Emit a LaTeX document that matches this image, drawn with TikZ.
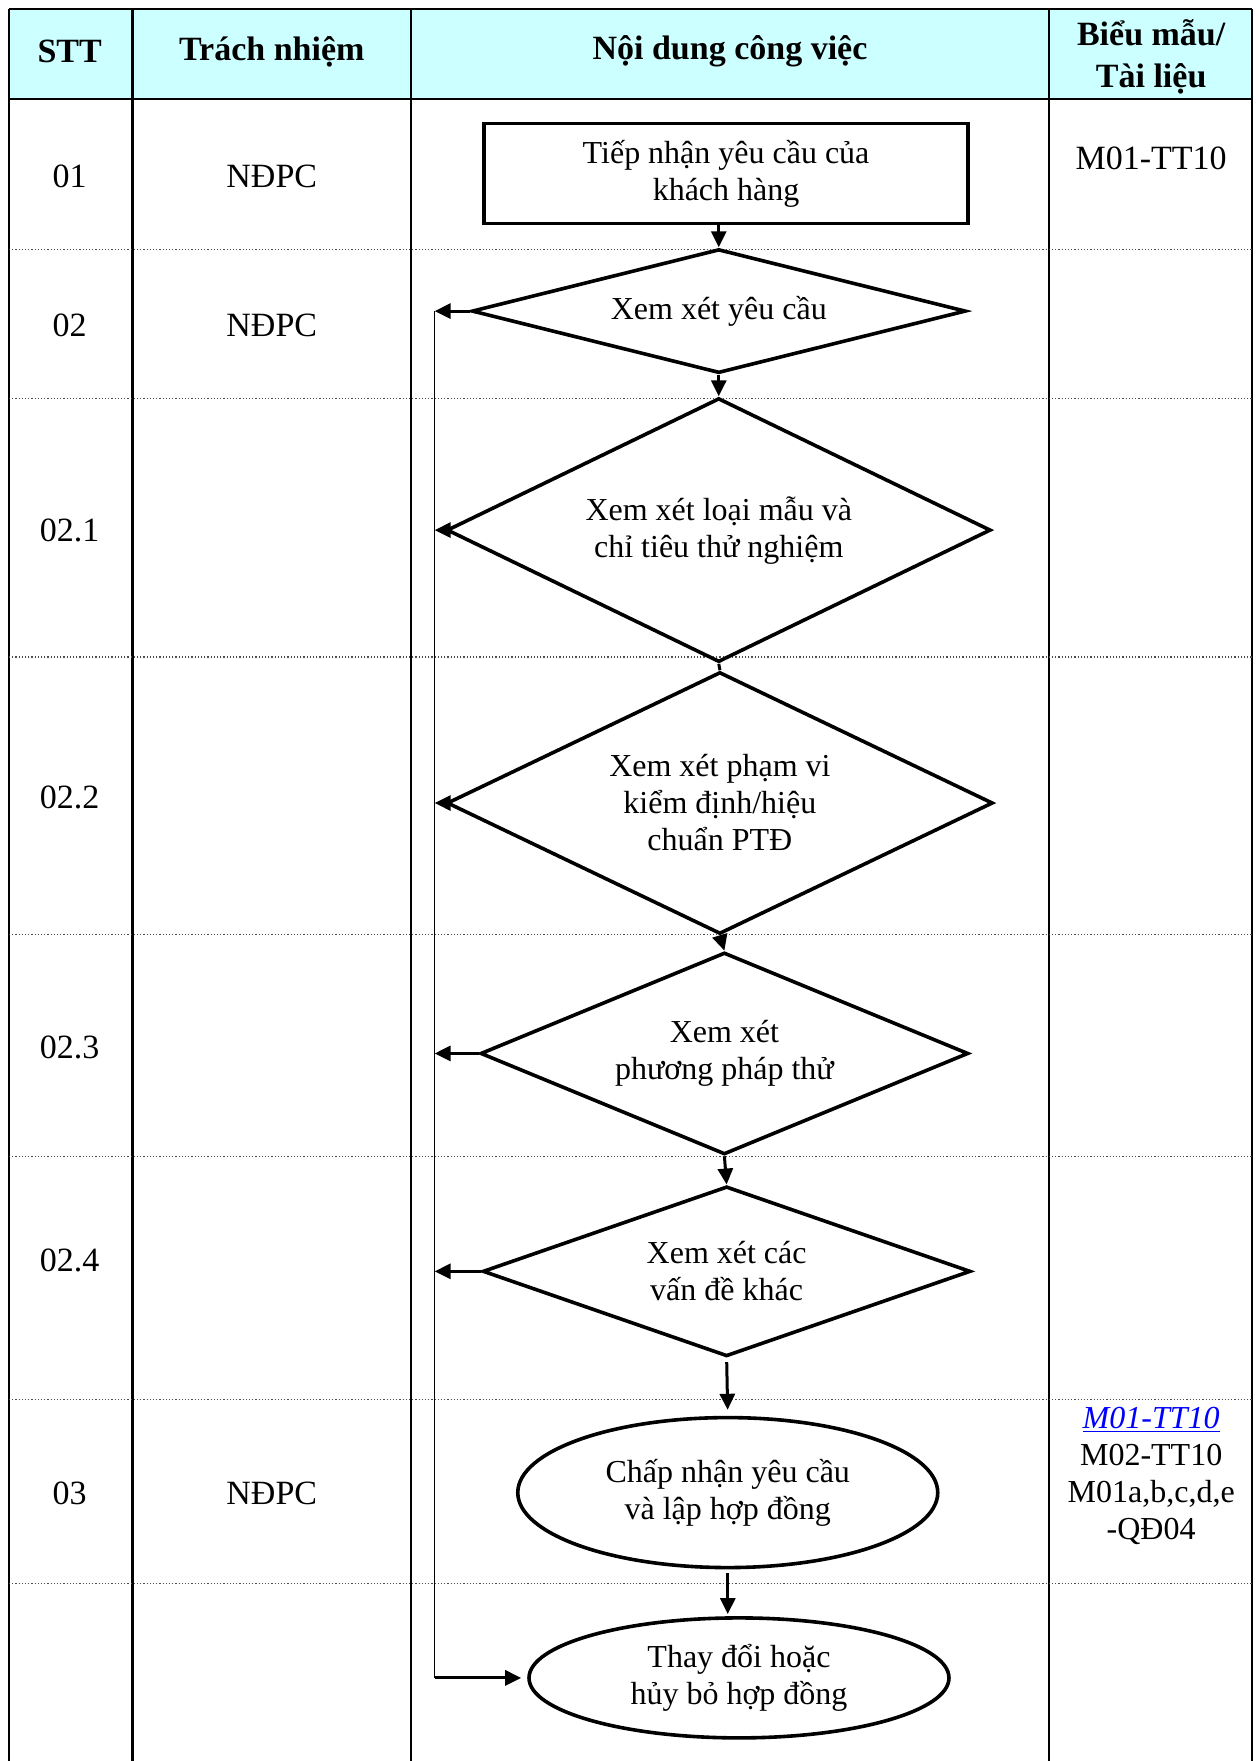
\documentclass[tikz,border=0pt]{standalone}
\usepackage{fontspec}
\setmainfont{Liberation Serif}
\usepackage{tikz}
\usetikzlibrary{positioning, calc, arrows.meta, shapes.geometric}
\definecolor{colorhead}{HTML}{CCFFFF}
\definecolor{colorlink}{HTML}{0000FF}
\tikzstyle{headtxt}=[font=\fontsize{17}{21}\selectfont\bfseries, align=center]
\tikzstyle{celltxt}=[font=\fontsize{17}{18.5}\selectfont, align=center]
\tikzstyle{colline}=[line width=1.2pt]
\tikzstyle{rowline}=[densely dotted, line width=0.6pt, black!70]
\tikzstyle{task}=[draw, rectangle, line width=1.8pt, minimum width=242pt, minimum height=50pt, inner sep=0pt, align=center]
\tikzstyle{check}=[draw, diamond, line width=1.8pt, inner sep=0pt, align=center]
\tikzstyle{goal}=[draw, ellipse, line width=1.8pt, inner sep=0pt, minimum width=210pt, align=center]
\tikzstyle{fwd}=[-{Triangle[length=8pt, width=7.5pt]}, line width=1.5pt]
\tikzstyle{back}=[line width=0.8pt]

\begin{document}
\begin{tikzpicture}[x=0.5616pt, y=-0.5616pt, font=\fontsize{16}{18.5}\selectfont]
\useasboundingbox (0,0) rectangle (1121,1568);

% table frame
\fill[colorhead] (8,8) rectangle (1115,88);
\draw[colline] (8,8) -- (1115,8);
\draw[colline] (8,88) -- (1115,88);
\draw[colline] (8,8) -- (8,1568);
\draw[colline] (118,8) -- (118,1568);
\draw[colline] (366,8) -- (366,1568);
\draw[colline] (934,8) -- (934,1568);
\draw[colline] (1115,8) -- (1115,1568);
\draw[rowline] (8,222) -- (1115,222);
\draw[rowline] (8,355) -- (1115,355);
\draw[rowline] (8,585) -- (1115,585);
\draw[rowline] (8,832) -- (1115,832);
\draw[rowline] (8,1030) -- (1115,1030);
\draw[rowline] (8,1246) -- (1115,1246);
\draw[rowline] (8,1410) -- (1115,1410);

\node[headtxt] (hstt) at (62,46) {STT};
\node[headtxt] (hresp) at (242,46) {Trách nhiệm};
\node[headtxt] (htask) at (650,46) {Nội dung công việc};
\node[headtxt] (hdoc) at (1025,51) {Biểu mẫu/\\Tài liệu};

\node[celltxt] (s01) at (62,157) {01};
\node[celltxt] (s02) at (62,290) {02};
\node[celltxt] (s021) at (62,472) {02.1};
\node[celltxt] (s022) at (62,710) {02.2};
\node[celltxt] (s023) at (62,933) {02.3};
\node[celltxt] (s024) at (62,1122) {02.4};
\node[celltxt] (s03) at (62,1330) {03};

\node[celltxt] (r01) at (242,157) {NĐPC};
\node[celltxt] (r02) at (242,290) {NĐPC};
\node[celltxt] (r03) at (242,1330) {NĐPC};

\node[celltxt] (doc01) at (1025,141) {M01-TT10};
\node[celltxt, font=\fontsize{16}{18.5}\selectfont] (doc03) at (1025,1314)
  {\textcolor{colorlink}{\underline{\textit{M01-TT10}}}\\M02-TT10\\M01a,b,c,d,e\\-QĐ04};

% flow
\node[task] (recv) at (646.5,154.5) {Tiếp nhận yêu cầu của\\khách hàng};
\node[check, aspect=3.98, minimum width=247pt, minimum height=62pt] (d1) at (640,277) {Xem xét yêu cầu};
\node[check, aspect=2.06, minimum width=272pt, minimum height=132pt] (d2) at (640,472) {Xem xét loại mẫu và\\chỉ tiêu thử nghiệm};
\node[check, aspect=2.08, minimum width=273pt, minimum height=131pt] (d3) at (641,715) {Xem xét phạm vi\\kiểm định/hiệu\\chuẩn PTĐ};
\node[check, aspect=2.42, minimum width=244pt, minimum height=101pt] (d4) at (645,938) {Xem xét\\phương pháp thử};
\node[check, aspect=2.87, minimum width=244pt, minimum height=85pt] (d5) at (647,1132) {Xem xét các\\vấn đề khác};
\node[goal, minimum height=75pt] (e1) at (648,1329) {Chấp nhận yêu cầu\\và lập hợp đồng};
\node[goal, minimum height=60pt] (e2) at (658,1494) {Thay đổi hoặc\\hủy bỏ hợp đồng};

\draw[fwd] (d1.north |- recv.south) -- (d1.north);
\draw[fwd] (d1.south) -- (d2.north);
\draw[line width=1.5pt] (d2.south) -- (d3.north);
\draw[fwd] (d3.south) -- (d4.north);
\draw[fwd] (d4.south) -- (d5.north);
\draw[fwd, shorten <=2pt, shorten >=3pt] (d5.south) -- (e1.north);
\draw[fwd, shorten <=2pt, shorten >=1pt] (e1.south) -- (e1.south |- e2.north);

% back line on the left
\coordinate (bus) at (387,277);
\draw[fwd] (d1.west) -- (bus);
\draw[back] (bus) -- (bus |- e2.west);
\draw[fwd, shorten >=3pt] (bus |- e2.west) -- (e2.west);
\draw[fwd] (d2.west) -- (d2.west -| bus);
\draw[fwd] (d3.west) -- (d3.west -| bus);
\draw[fwd] (d4.west) -- (d4.west -| bus);
\draw[fwd] (d5.west) -- (d5.west -| bus);

\end{tikzpicture}
\end{document}
